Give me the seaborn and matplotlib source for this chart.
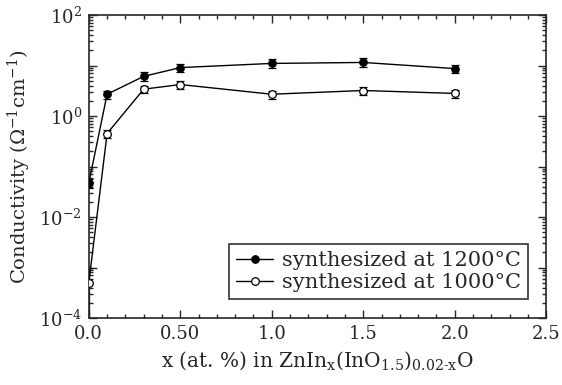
import matplotlib
matplotlib.use("Agg")
import matplotlib.pyplot as plt
import matplotlib.ticker as mticker
import numpy as np
import pandas as pd
import seaborn as sns

x_vals = [0.0, 0.1, 0.3, 0.5, 1.0, 1.5, 2.0]
cond_1200 = [0.047, 2.7, 6.1, 9.1, 11.0, 11.5, 8.7]
cond_1000 = [0.0005, 0.45, 3.4, 4.2, 2.7, 3.2, 2.8]
err_1200 = [0.01, 0.5, 1.2, 1.7, 2.2, 2.3, 1.7]
err_1000 = [0.0005, 0.09, 0.6, 0.8, 0.5, 0.6, 0.5]
labels = ["synthesized at 1200°C", "synthesized at 1000°C"]

sns.set_style("ticks")
plt.rcParams["font.family"] = ["DejaVu Serif"]
plt.rcParams["mathtext.fontset"] = "dejavuserif"

fig = plt.figure(figsize=(5.62, 3.85), dpi=100)
ax = fig.add_axes([0.158, 0.174, 0.814, 0.787])

df = pd.DataFrame({
    "x": x_vals * 2,
    "c": cond_1200 + cond_1000,
    "series": [labels[0]] * len(x_vals) + [labels[1]] * len(x_vals),
})

ax.errorbar(x_vals, cond_1200, yerr=err_1200, fmt="none", ecolor="black",
            elinewidth=0.9, capsize=3, capthick=0.9, zorder=2)
ax.errorbar(x_vals, cond_1000, yerr=err_1000, fmt="none", ecolor="black",
            elinewidth=0.9, capsize=3, capthick=0.9, zorder=2)

sns.lineplot(data=df[df.series == labels[0]], x="x", y="c", ax=ax, color="black",
             lw=1.0, marker="o", markersize=5.5, markerfacecolor="black",
             markeredgecolor="black", label=labels[0], zorder=3)
sns.lineplot(data=df[df.series == labels[1]], x="x", y="c", ax=ax, color="black",
             lw=1.0, marker="o", markersize=5.5, markerfacecolor="white",
             markeredgecolor="black", markeredgewidth=0.9, label=labels[1], zorder=3)

ax.set_yscale("log")
ax.set_xlim(0, 2.5)
ax.set_ylim(1e-4, 1e2)
ax.yaxis.set_major_locator(mticker.LogLocator(base=10, numticks=20))
ax.yaxis.set_minor_locator(mticker.LogLocator(base=10, subs=np.arange(2, 10), numticks=20))

def yfmt(v, pos):
    e = int(round(np.log10(v)))
    if e % 2 == 0:
        return r"$\mathrm{10^{%d}}$" % e
    return ""
ax.yaxis.set_major_formatter(mticker.FuncFormatter(yfmt))

ax.set_xticks([0, 0.5, 1.0, 1.5, 2.0, 2.5])
ax.set_xticklabels(["0.0", "0.50", "1.0", "1.5", "2.0", "2.5"])
ax.xaxis.set_minor_locator(mticker.MultipleLocator(0.1))

ax.tick_params(which="both", direction="in", top=True, right=True, width=1.0)
ax.tick_params(which="major", length=6, labelsize=13, pad=5)
ax.tick_params(which="minor", length=3)
for s in ax.spines.values():
    s.set_linewidth(1.2)

ax.set_xlabel(r"x (at. %) in ZnIn$_\mathrm{x}$(InO$_\mathrm{1.5}$)$_\mathrm{0.02\text{-}x}$O",
              fontsize=14.5, labelpad=5)
ax.set_ylabel(r"Conductivity ($\Omega^{-1}$cm$^{-1}$)", fontsize=14, labelpad=4)

leg = ax.legend(loc="lower right", bbox_to_anchor=(0.96, 0.062), frameon=True,
                fancybox=False, edgecolor="black", fontsize=15,
                handlelength=1.8, borderpad=0.35, labelspacing=0.12, handletextpad=0.4,
                borderaxespad=0)
leg.get_frame().set_linewidth(1.2)

fig.savefig("out.png", dpi=100)
